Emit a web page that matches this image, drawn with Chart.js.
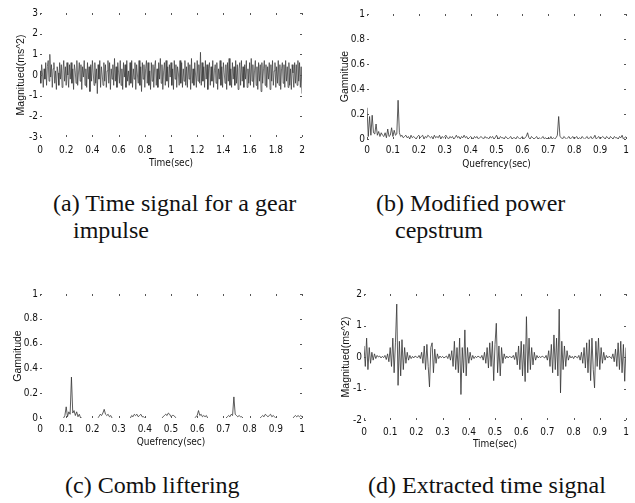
<!DOCTYPE html>
<html>
<head>
<meta charset="utf-8">
<script src="https://cdn.jsdelivr.net/npm/chart.js@4.4.0/dist/chart.umd.min.js"></script>
<style>
  html, body { margin: 0; padding: 0; background: #fff; }
  #fig { position: relative; width: 635px; height: 503px; overflow: hidden; }
  canvas { position: absolute; }
  .cap { position: absolute; font-family: 'Liberation Serif', 'Times New Roman', serif; font-size: 24px; line-height: 27px; color: #111; white-space: nowrap; }
</style>
</head>
<body>
<div id="fig">
  <canvas id="chartA" width="317" height="180" style="left:0;top:0"></canvas>
  <canvas id="chartB" width="318" height="180" style="left:317px;top:0"></canvas>
  <canvas id="chartC" width="317" height="205" style="left:0;top:250px"></canvas>
  <canvas id="chartD" width="318" height="205" style="left:317px;top:250px"></canvas>
  <div class="cap" style="left:53px;top:190px">(a) Time signal for a gear<br><span style="padding-left:20px">impulse</span></div>
  <div class="cap" style="left:376px;top:190px">(b) Modified power<br><span style="padding-left:19px">cepstrum</span></div>
  <div class="cap" style="left:65px;top:472px">(c) Comb liftering</div>
  <div class="cap" style="left:368px;top:472px">(d) Extracted time signal</div>
</div>
<script>
const N = null; // no line drawn (outside the comb windows)

// (a) time signal, 0..2 s, one sample every 0.00625 s
const stepA = 0.00625;
const signalA = [
  0.2,-0.4,0.5,0.1,-0.6,0.3,-0.2,0.6,-0.5,0.4,0.7,-0.3,1.0,-0.1,0.5,-0.6,0.3,0.6,-0.4,0.2,
  -0.7,0.4,0.1,-0.5,0.6,-0.2,0.5,-0.6,0.2,0.7,-0.3,0.4,-0.5,0.6,0.0,-0.6,0.5,-0.2,0.6,-0.4,
  0.3,-0.7,0.5,0.2,-0.4,0.7,-0.5,0.1,0.6,-0.3,0.5,-0.7,0.4,-0.1,0.7,-0.5,0.3,-0.6,0.6,-0.2,
  0.4,-0.8,0.5,-0.3,0.7,0.1,-0.5,0.6,-0.4,0.3,-0.9,0.5,-0.2,0.7,-0.6,0.4,0.0,-0.5,0.6,-0.3,
  0.5,-0.6,0.2,0.7,-0.4,0.6,-0.7,0.3,-0.2,0.5,-0.5,0.8,-0.3,0.4,-0.6,0.6,0.1,-0.4,0.7,-0.5,
  0.3,-0.7,0.6,-0.1,0.5,-0.6,0.7,-0.3,0.2,-0.5,0.6,-0.4,0.7,-0.6,0.3,-0.2,0.6,-0.7,0.5,0.0,
  -0.4,0.7,-0.5,0.4,-0.8,0.6,-0.2,0.5,-0.6,0.3,0.7,-0.4,0.6,-0.5,0.2,-0.7,0.6,-0.3,0.5,-0.6,
  0.4,0.7,-0.5,0.3,-0.6,0.6,-0.2,0.8,-0.4,0.5,-0.7,0.2,0.6,-0.5,0.7,-0.3,0.4,-0.6,0.5,-0.1,
  0.6,-0.5,0.3,-0.7,0.7,-0.2,0.5,-0.6,0.4,0.1,-0.5,0.7,-0.4,0.6,-0.6,0.3,-0.3,0.7,-0.5,0.4,
  -0.6,0.6,-0.2,0.5,-0.7,0.8,-0.4,0.3,-0.5,0.6,0.0,-0.6,0.7,-0.3,0.5,-0.4,1.1,-0.5,0.6,-0.3,
  0.4,-0.6,0.7,-0.2,0.5,-0.7,0.3,0.6,-0.5,0.4,-0.3,0.7,-0.6,0.2,0.5,-0.4,0.6,-0.7,0.3,-0.2,
  0.7,-0.5,0.4,-0.6,0.6,0.1,-0.4,0.5,-0.7,0.6,-0.3,0.8,-0.5,0.3,-0.6,0.6,-0.2,0.4,-0.5,0.7,
  -0.4,0.5,-0.7,0.3,0.6,-0.5,0.7,-0.3,0.4,-0.6,0.5,-0.2,0.7,-0.6,0.3,-0.4,0.6,-0.5,0.8,-0.3,
  0.5,-0.6,0.2,0.7,-0.5,0.4,-0.7,0.6,-0.3,0.5,-0.8,0.6,-0.4,0.3,0.7,-0.5,0.5,-0.6,0.4,-0.2,
  0.6,-0.7,0.5,-0.3,0.7,-0.5,0.2,0.6,-0.6,0.4,-0.4,0.7,-0.5,0.5,-0.7,0.3,0.6,-0.4,0.5,-0.6,
  0.7,-0.3,0.4,-0.6,0.6,-0.5,0.3,-0.7,0.5,0.1,-0.6,0.6,-0.4,0.5,-0.5,0.7,-0.3,0.6,-0.6,0.4,
  -0.9
];
const xTicksA = ['0','0.2','0.4','0.6','0.8','1','1.2','1.4','1.6','1.8','2'];
const yTicksA = ['-3','-2','-1','0','1','2','3'];

// (b) modified power cepstrum, 0..1 s, one sample every 0.005 s
const stepB = 0.005;
const cepstrumB = [
  0.25,0.02,0.18,0.03,0.19,0.05,0.04,0.12,0.03,0.06,
  0.02,0.05,0.03,0.02,0.05,0.01,0.08,0.02,0.03,0.09,
  0.02,0.07,0.03,0.04,0.31,0.05,0.02,0.03,0.01,0.02,
  0.03,0.01,0.02,0.00,0.03,0.01,0.02,0.01,0.00,0.02,
  0.03,0.01,0.02,0.03,0.00,0.02,0.01,0.03,0.02,0.01,
  0.02,0.00,0.03,0.01,0.02,0.01,0.03,0.00,0.02,0.01,
  0.02,0.03,0.01,0.00,0.02,0.01,0.02,0.00,0.01,0.03,
  0.01,0.02,0.00,0.02,0.01,0.03,0.01,0.02,0.00,0.01,
  0.02,0.01,0.00,0.02,0.01,0.02,0.00,0.01,0.02,0.01,
  0.00,0.02,0.01,0.01,0.00,0.02,0.01,0.02,0.00,0.01,
  0.03,0.01,0.00,0.02,0.01,0.01,0.00,0.02,0.01,0.00,
  0.01,0.02,0.00,0.01,0.01,0.00,0.02,0.01,0.00,0.01,
  0.02,0.00,0.01,0.02,0.05,0.01,0.00,0.02,0.01,0.00,
  0.01,0.02,0.00,0.01,0.00,0.01,0.02,0.00,0.01,0.00,
  0.01,0.00,0.02,0.00,0.01,0.00,0.01,0.03,0.18,0.02,
  0.01,0.00,0.02,0.01,0.00,0.01,0.02,0.00,0.01,0.02,
  0.00,0.01,0.02,0.00,0.01,0.00,0.02,0.01,0.00,0.01,
  0.02,0.00,0.01,0.02,0.00,0.01,0.03,0.00,0.01,0.02,
  0.00,0.01,0.02,0.01,0.00,0.02,0.01,0.00,0.02,0.01,
  0.00,0.02,0.01,0.01,0.00,0.02,0.01,0.03,0.00,0.01,
  0.02
];
const qTicks = ['0','0.1','0.2','0.3','0.4','0.5','0.6','0.7','0.8','0.9','1'];
const gTicks = ['0','0.2','0.4','0.6','0.8','1'];

// (c) comb liftered cepstrum, same sampling as (b)
const stepC = 0.005;
const combC = [
  N,N,N,N,N,N,N,N,N,N,N,N,N,N,N,N,N,N,
  0.0,0.02,0.09,0.01,0.05,0.03,0.33,0.04,0.06,0.02,0.05,0.01,0.03,0.0,0.0,
  N,N,N,N,N,N,N,N,N,N,N,
  0.0,0.01,0.03,0.02,0.04,0.07,0.03,0.02,0.03,0.01,0.02,0.0,
  N,N,N,N,N,N,N,N,N,N,N,N,N,
  0.0,0.02,0.01,0.03,0.02,0.03,0.01,0.02,0.03,0.01,0.01,0.0,
  N,N,N,N,N,N,N,N,N,N,N,N,
  0.0,0.01,0.02,0.03,0.02,0.04,0.03,0.01,0.02,0.02,0.01,0.0,
  N,N,N,N,N,N,N,N,N,N,N,N,N,
  0.0,0.01,0.02,0.06,0.02,0.03,0.01,0.02,0.01,0.02,0.0,
  N,N,N,N,N,N,N,N,N,N,N,N,N,
  0.0,0.01,0.02,0.01,0.03,0.02,0.17,0.03,0.02,0.01,0.02,0.01,0.01,0.0,
  N,N,N,N,N,N,N,N,N,N,N,N,
  0.0,0.01,0.02,0.01,0.03,0.02,0.01,0.02,0.03,0.01,0.02,0.01,0.0,
  N,N,N,N,N,N,N,N,N,N,N,N,
  0.0,0.01,0.02,0.01,0.02,0.01,0.02,0.01
];

// (d) extracted time signal, 0..1 s, one sample every 0.005 s
const stepD = 0.005;
const signalD = [
  0.35,-0.3,0.6,-0.4,0.3,-0.2,
  0.15,-0.1,0.1,-0.05,0.05,0.0,0.03,-0.03,0.02,-0.02,
  0.05,-0.08,0.1,-0.15,
  0.3,-0.3,0.6,-0.5,0.45,1.68,-0.9,0.5,-0.6,0.55,-0.4,
  0.3,-0.2,0.15,-0.1,0.05,-0.05,
  0.02,-0.03,0.03,0.0,-0.02,0.05,-0.05,
  0.15,-0.2,0.35,-0.4,0.4,-0.3,-0.95,0.3,0.45,-0.5,0.25,-0.2,0.1,
  -0.05,0.03,-0.02,0.02,-0.03,0.0,0.03,-0.05,0.1,-0.1,
  0.2,-0.3,0.5,-0.4,0.3,-0.5,0.6,-1.19,0.3,-0.5,0.86,-0.6,0.3,-0.2,0.15,
  -0.1,0.05,-0.05,0.02,-0.02,0.03,0.0,-0.03,0.05,-0.1,0.15,
  -0.2,0.3,-0.35,0.45,-0.3,0.5,-0.75,0.4,1.07,-0.5,0.35,-0.6,0.3,-0.2,0.1,
  -0.05,0.03,-0.03,0.02,0.0,-0.02,0.05,-0.08,0.15,
  -0.25,0.35,-0.4,0.5,-0.6,0.4,-0.78,1.28,-0.5,0.6,-0.4,0.3,-0.25,0.15,-0.1,
  0.05,-0.03,0.02,-0.02,0.03,0.0,-0.03,0.05,-0.1,
  0.2,-0.3,0.4,-0.5,0.7,-0.4,0.6,-0.6,1.52,-1.14,0.5,-0.4,0.35,-0.3,0.2,-0.1,
  0.05,-0.03,0.02,-0.05,0.03,0.0,-0.03,0.05,-0.1,0.15,-0.2,
  0.3,-0.35,0.45,-0.5,0.55,-0.75,0.6,-0.4,-0.98,0.5,-0.3,0.6,-0.4,0.3,-0.2,0.15,-0.1,0.05,
  -0.03,0.02,0.0,-0.05,0.1,-0.15,
  0.25,-0.3,0.45,-0.4,0.5,-0.5,0.4,-0.77,0.3
];
const yTicksD = ['-2','-1','0','1','2'];

const narrow = "'Liberation Sans Narrow', 'DejaVu Sans Condensed', 'Liberation Sans', Arial, sans-serif";
const tickFont = { family: narrow, size: 10, lineHeight: 1.2 };
const xTitleFont = { family: narrow, size: 10, lineHeight: 1.2 };
const yTitleFont = { family: "'Liberation Sans', Arial, sans-serif", size: 10.5, lineHeight: 1.2 };

// small inward tick marks on all four sides (matlab style box without the box)
const innerTicks = {
  id: 'innerTicks',
  afterDraw(chart) {
    const { ctx, chartArea: a, scales } = chart;
    ctx.save();
    ctx.strokeStyle = '#555';
    ctx.lineWidth = 1;
    ctx.beginPath();
    scales.x.ticks.forEach(t => {
      const px = Math.round(scales.x.getPixelForValue(t.value)) + 0.5;
      ctx.moveTo(px, a.top); ctx.lineTo(px, a.top + 2);
      ctx.moveTo(px, a.bottom); ctx.lineTo(px, a.bottom - 2);
    });
    scales.y.ticks.forEach(t => {
      const py = Math.round(scales.y.getPixelForValue(t.value)) + 0.5;
      ctx.moveTo(a.left, py); ctx.lineTo(a.left + 2, py);
      ctx.moveTo(a.right, py); ctx.lineTo(a.right - 2, py);
    });
    ctx.stroke();
    ctx.restore();
  }
};

function makePanel(canvasId, p) {
  const points = p.values.map((v, i) => ({ x: i * p.step, y: v }));
  return new Chart(document.getElementById(canvasId), {
    type: 'line',
    data: {
      datasets: [{
        data: points,
        borderColor: '#333',
        borderWidth: p.lineWidth,
        pointRadius: 0,
        tension: 0,
        spanGaps: false
      }]
    },
    options: {
      responsive: false,
      animation: false,
      layout: { padding: { top: p.top, right: p.right, left: 0, bottom: 0 } },
      plugins: { legend: { display: false }, tooltip: { enabled: false } },
      scales: {
        x: {
          type: 'linear',
          min: Number(p.xTicks[0]), max: Number(p.xTicks[p.xTicks.length - 1]),
          grid: { display: false, drawTicks: false },
          border: { display: false },
          afterBuildTicks: s => { s.ticks = p.xTicks.map(t => ({ value: Number(t) })); },
          ticks: { autoSkip: false, maxRotation: 0, padding: p.xPad, color: '#111', font: tickFont,
                   callback: (v, i) => p.xTicks[i] },
          title: { display: true, text: p.xTitle, color: '#111', font: xTitleFont,
                   padding: { top: 0, bottom: p.xTitlePad } },
          afterFit: s => { s.height = p.xHeight; }
        },
        y: {
          type: 'linear',
          min: Number(p.yTicks[0]), max: Number(p.yTicks[p.yTicks.length - 1]),
          grid: { display: false, drawTicks: false },
          border: { display: false },
          afterBuildTicks: s => { s.ticks = p.yTicks.map(t => ({ value: Number(t) })); },
          ticks: { autoSkip: false, padding: 2, color: '#111', font: tickFont,
                   callback: (v, i) => p.yTicks[i] },
          title: { display: true, text: p.yTitle, color: '#111', font: yTitleFont,
                   padding: { top: p.yTitlePad, bottom: 0 } },
          afterFit: s => { s.width = p.yWidth; }
        }
      }
    },
    plugins: [innerTicks]
  });
}

makePanel('chartA', {
  values: signalA, step: stepA, xTicks: xTicksA, yTicks: yTicksA, lineWidth: 0.7,
  xTitle: 'Time(sec)', yTitle: 'Magnitued(ms^2)',
  top: 13, right: 15, yWidth: 40, xHeight: 43, xPad: 7, xTitlePad: 10.6, yTitlePad: 15
});
makePanel('chartB', {
  values: cepstrumB, step: stepB, xTicks: qTicks, yTicks: gTicks, lineWidth: 0.8,
  xTitle: 'Quefrency(sec)', yTitle: 'Gamnitude',
  top: 14, right: 9, yWidth: 50, xHeight: 41, xPad: 5, xTitlePad: 9.6, yTitlePad: 21.5
});
makePanel('chartC', {
  values: combC, step: stepC, xTicks: qTicks, yTicks: gTicks, lineWidth: 0.8,
  xTitle: 'Quefrency(sec)', yTitle: 'Gamnitude',
  top: 44, right: 15, yWidth: 40, xHeight: 37, xPad: 5, xTitlePad: 6.3, yTitlePad: 11.7
});
makePanel('chartD', {
  values: signalD, step: stepD, xTicks: qTicks, yTicks: yTicksD, lineWidth: 0.8,
  xTitle: 'Time(sec)', yTitle: 'Magnitued(ms^2)',
  top: 44, right: 9, yWidth: 47, xHeight: 35, xPad: 6, xTitlePad: 4.6, yTitlePad: 23
});
</script>
</body>
</html>
